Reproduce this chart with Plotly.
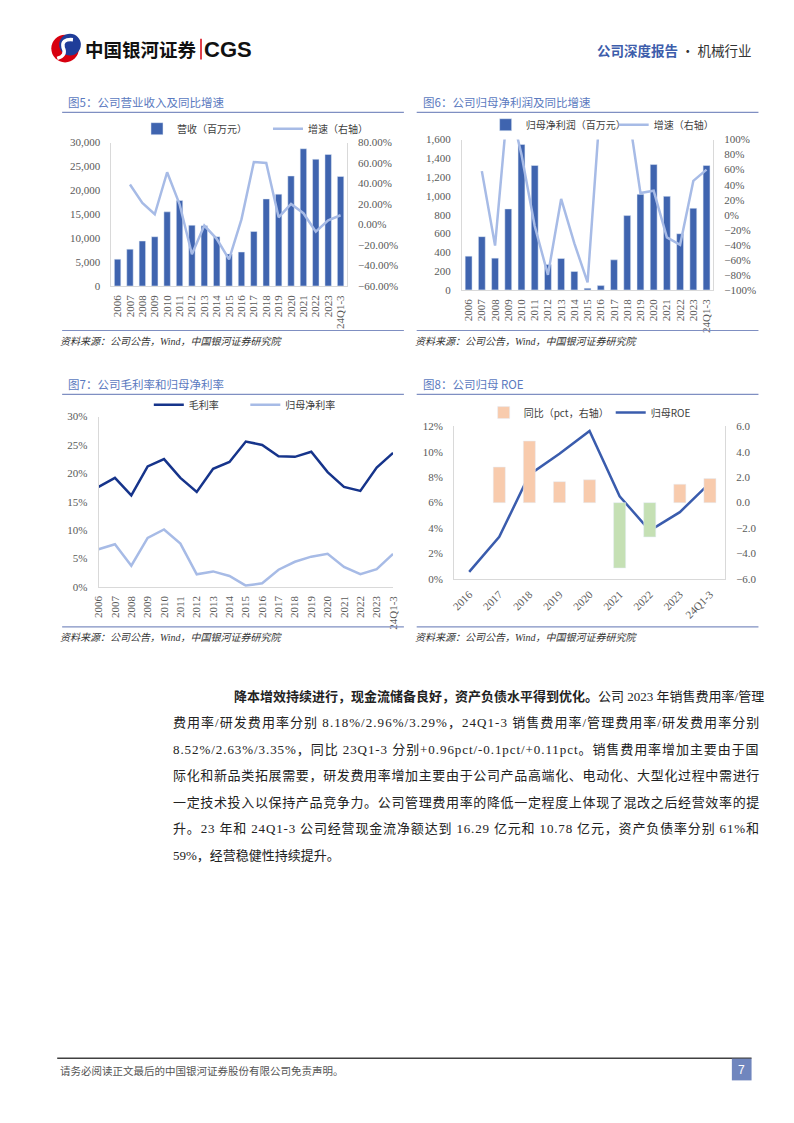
import plotly.graph_objects as go

W, H = 794, 1123
def px(x): return x / W
def py(y): return 1 - y / H

# ---------------- data ----------------
years19 = ["2006","2007","2008","2009","2010","2011","2012","2013","2014","2015",
           "2016","2017","2018","2019","2020","2021","2022","2023","24Q1-3"]
revenue = [5600,7700,9400,10300,15500,17900,12700,12600,10300,6700,
           7100,11400,18200,19200,23000,28700,26500,27500,22900]
revenue_yoy = [None,39,21,10,51,20,-29,-1,-14,-34,5,61,60,7,20,11,-7,4,9]

net_profit = [359,567,338,862,1548,1324,271,334,197,18,
              46,320,791,1017,1334,996,598,869,1324]
profit_yoy = [None,58,-41,155,80,-15,-80,21,-38,-90,155,596,147,29,32,-30,-40,45,60]

gross_margin = [17.6,19.2,16.1,21.2,22.5,19.2,16.7,20.8,22.0,25.6,
                25.0,23.0,22.9,23.8,20.2,17.6,16.9,21.0,23.6]
net_margin = [6.6,7.5,3.7,8.6,10.1,7.6,2.2,2.7,1.9,0.2,
              0.6,3.0,4.4,5.3,5.8,3.5,2.2,3.1,5.8]

years9 = ["2016","2017","2018","2019","2020","2021","2022","2023","24Q1-3"]
roe = [0.55,3.3,8.2,9.85,11.65,6.5,3.8,5.25,7.55]
roe_chg = [None,2.8,4.85,1.65,1.8,-5.15,-2.7,1.45,1.9]

# ---------------- styles ----------------
BAR = "#3F64AF"
LIGHT = "#A7BBE6"
NAVY = "#16348B"
ROE = "#3A5CAD"
PEACH = "#F8CBAD"
GREEN = "#C5E0B4"
AXC = "#D9D9D9"
TITLEC = "#5B7AC0"
RULEC = "#7F8FC2"
TICKF = dict(family="Liberation Serif, Noto Sans CJK SC", size=11, color="#595959")
LEGF = dict(family="Noto Sans CJK SC", size=10, color="#404040")

fig = go.Figure()

# Chart 5
fig.add_trace(go.Bar(x=years19, y=revenue, name="营收（百万元）", marker_color=BAR,
                     width=0.52, xaxis="x", yaxis="y", legend="legend", showlegend=True))
fig.add_trace(go.Scatter(x=years19, y=revenue_yoy, name="增速（右轴）", mode="lines",
                         line=dict(color=LIGHT, width=2.5), xaxis="x", yaxis="y2",
                         legend="legend2"))
# Chart 6
fig.add_trace(go.Bar(x=years19, y=net_profit, name="归母净利润（百万元）", marker_color=BAR,
                     width=0.52, xaxis="x2", yaxis="y3", legend="legend3"))
fig.add_trace(go.Scatter(x=years19, y=profit_yoy, name="增速（右轴）", mode="lines",
                         line=dict(color=LIGHT, width=2.5), xaxis="x2", yaxis="y4",
                         legend="legend4"))
# Chart 7
fig.add_trace(go.Scatter(x=years19, y=gross_margin, name="毛利率", mode="lines",
                         line=dict(color=NAVY, width=2.5), xaxis="x3", yaxis="y5",
                         legend="legend5"))
fig.add_trace(go.Scatter(x=years19, y=net_margin, name="归母净利率", mode="lines",
                         line=dict(color=LIGHT, width=2.5), xaxis="x3", yaxis="y5",
                         legend="legend6"))
# Chart 8
bar_colors = [PEACH if (v is None or v >= 0) else GREEN for v in roe_chg]
fig.add_trace(go.Bar(x=years9, y=roe_chg, name="同比（pct，右轴）", marker_color=bar_colors,
                     width=0.4, xaxis="x4", yaxis="y7", legend="legend7"))
fig.add_trace(go.Scatter(x=years9, y=roe, name="归母ROE", mode="lines",
                         line=dict(color=ROE, width=2.5), xaxis="x4", yaxis="y6",
                         legend="legend8"))

def xax(dom, anchor, angle):
    return dict(domain=dom, anchor=anchor, type="category", tickangle=angle, dtick=1,
                showline=True, linecolor=AXC, linewidth=1, showgrid=False,
                ticks="", tickfont=TICKF, fixedrange=True, ticklabelstandoff=4)

def yax(dom, anchor, rng, dtick, fmt="", suffix="", side="left", overlay=None, line=True):
    d = dict(anchor=anchor, range=rng, dtick=dtick, tick0=rng[0], tickformat=fmt,
             ticksuffix=suffix, side=side, showline=line, linecolor=AXC, linewidth=1,
             showgrid=False, zeroline=False, ticks="", tickfont=TICKF,
             ticklabelstandoff=8, fixedrange=True)
    if overlay:
        d["overlaying"] = overlay
    else:
        d["domain"] = dom
    return d

layout = dict(
    width=W, height=H, autosize=False,
    margin=dict(l=0, r=0, t=0, b=0),
    paper_bgcolor="white", plot_bgcolor="white",
    barmode="overlay", showlegend=True,
    xaxis=xax([px(107), px(346)], "y", -90),
    yaxis=yax([py(283), py(138)], "x", [0, 30000], 5000, fmt=","),
    yaxis2=yax(None, "x", [-60, 80], 20, fmt=".2f", suffix="%", side="right", overlay="y"),
    xaxis2=xax([px(463), px(718)], "y3", -90),
    yaxis3=yax([py(287), py(135)], "x2", [0, 1600], 200, fmt=","),
    yaxis4=yax(None, "x2", [-100, 100], 20, suffix="%", side="right", overlay="y3"),
    xaxis3=xax([px(94), px(393)], "y5", -90),
    yaxis5=yax([py(587), py(415)], "x3", [0, 30], 5, suffix="%"),
    xaxis4=xax([px(455), px(730)], "y6", -45),
    yaxis6=yax([py(579), py(425)], "x4", [0, 12], 2, suffix="%"),
    yaxis7=yax(None, "x4", [-6, 6], 2, fmt=".1f", side="right", overlay="y6"),
)
fig.update_layout(**layout)

def leg(x, y):
    return dict(x=px(x), y=py(y), xanchor="left", yanchor="middle", orientation="h",
                bgcolor="rgba(0,0,0,0)", font=LEGF, itemwidth=30, itemclick=False,
                itemdoubleclick=False, visible=True)

fig.update_layout(
    legend=leg(133, 124), legend2=leg(266, 124),
    legend3=leg(487, 120), legend4=leg(617, 120),
    legend5=leg(145, 403), legend6=leg(243, 403),
    legend7=leg(485, 411), legend8=leg(614, 411),
)

shapes = []
ann = []

def hline(x0, x1, y, color, w):
    shapes.append(dict(type="line", xref="paper", yref="paper", x0=px(x0), x1=px(x1),
                       y0=py(y), y1=py(y), line=dict(color=color, width=w)))

def text(x, y, s, size, color, xanchor="left", family="Noto Sans CJK SC", italic=False):
    if italic:
        s = "<i>" + s + "</i>"
    ann.append(dict(x=px(x), y=py(y), xref="paper", yref="paper", text=s, showarrow=False,
                    xanchor=xanchor, yanchor="middle", borderpad=0, borderwidth=0,
                    font=dict(size=size, color=color, family=family)))

# chart titles and rules
titles = [(63, 97, "图5：公司营业收入及同比增速"), (423, 97, "图6：公司归母净利润及同比增速"),
          (63, 382, "图7：公司毛利率和归母净利率"), (423, 382, "图8：公司归母 ROE")]
for x, y, s in titles:
    text(x, y, s, 11.5, TITLEC, family="Noto Sans CJK SC")
hline(57, 404, 107.5, RULEC, 1.2)
hline(417, 764, 107.5, RULEC, 1.2)
hline(57, 404, 392.5, RULEC, 1.2)
hline(417, 764, 392.5, RULEC, 1.2)
hline(57, 404, 328, RULEC, 1.2)
hline(417, 764, 328, RULEC, 1.2)
hline(57, 404, 627.5, RULEC, 1.2)
hline(417, 764, 627.5, RULEC, 1.2)

src = "资料来源：公司公告，Wind，中国银河证券研究院"
for x, y in [(55, 339), (415, 339), (55, 638), (415, 638)]:
    text(x, y, src, 10, "#333333", family="Liberation Serif, Noto Sans CJK SC", italic=True)

# header logo
shapes.append(dict(type="circle", xref="paper", yref="paper", x0=px(46), x1=px(74),
                   y0=py(57), y1=py(29), fillcolor="#D7000F", line=dict(width=0)))
shapes.append(dict(type="circle", xref="paper", yref="paper", x0=px(54), x1=px(76),
                   y0=py(50), y1=py(28), fillcolor="#1F3D99", line=dict(width=0)))
def P(x, y): return f"{px(x):.5f},{py(y):.5f}"
shapes.append(dict(type="path", xref="paper", yref="paper",
                   path=f"M{P(68,34)} Q{P(56,33)} {P(58,42)} Q{P(62,50)} {P(52,53)}",
                   line=dict(color="white", width=3.5)))
text(80, 43, "<b>中国银河证券</b>", 18.5, "#111111")
shapes.append(dict(type="line", xref="paper", yref="paper", x0=px(198), x1=px(198),
                   y0=py(33), y1=py(54), line=dict(color="#D7000F", width=1.5)))
text(201, 44, "<b>CGS</b>", 22, "#111111", family="Liberation Sans, Arial")
text(757, 44, "<span style='color:#3D5DAB'><b>公司深度报告</b></span> · 机械行业", 13.5,
     "#333333", xanchor="right")

# body text (justified via letter spacing)
BODY_SIZE = 13
NARROW = {"0": .5, "1": .5, "2": .5, "3": .5, "4": .5, "5": .5, "6": .5, "7": .5, "8": .5,
          "9": .5, "%": .833, "/": .278, ".": .25, ",": .25, " ": .25, "-": .333, "+": .564,
          "p": .5, "c": .444, "t": .278, "Q": .722}
def est_width(s):
    return sum(NARROW.get(ch, 1.0) * BODY_SIZE for ch in s)

body_font = "Liberation Serif, Noto Sans CJK SC"
lines = [
    (231, "降本增效持续进行，现金流储备良好，资产负债水平得到优化。", "公司 2023 年销售费用率/管理", True),
    (170, "", "费用率/研发费用率分别 8.18%/2.96%/3.29%，24Q1-3 销售费用率/管理费用率/研发费用率分别", True),
    (170, "", "8.52%/2.63%/3.35%，同比 23Q1-3 分别+0.96pct/-0.1pct/+0.11pct。销售费用率增加主要由于国", True),
    (170, "", "际化和新品类拓展需要，研发费用率增加主要由于公司产品高端化、电动化、大型化过程中需进行", True),
    (170, "", "一定技术投入以保持产品竞争力。公司管理费用率的降低一定程度上体现了混改之后经营效率的提", True),
    (170, "", "升。23 年和 24Q1-3 公司经营现金流净额达到 16.29 亿元和 10.78 亿元，资产负债率分别 61%和", True),
    (170, "", "59%，经营稳健性持续提升。", False),
]
RIGHT = 757
for i, (x, bold, rest, justify) in enumerate(lines):
    full = bold + rest
    ls = 0.0
    if justify:
        ls = max(0.0, (RIGHT - x - est_width(full)) / len(full))
    inner = (f"<b>{bold}</b>" if bold else "") + rest
    s = f"<span style='letter-spacing:{ls:.2f}px'>{inner}</span>"
    text(x, 698 + i * 26.7, s, BODY_SIZE, "#222222", family=body_font)

# footer
hline(52, 757, 1063.5, "#404040", 1.5)
text(55, 1076, "请务必阅读正文最后的中国银河证券股份有限公司免责声明。", 10.5, "#555555")
shapes.append(dict(type="rect", xref="paper", yref="paper", x0=px(737), x1=px(757),
                   y0=py(1086), y1=py(1064), fillcolor="#7086BE", line=dict(width=0)))
text(747, 1075, "7", 12, "white", xanchor="center", family="Liberation Sans")

fig.update_layout(shapes=shapes, annotations=ann)
fig.write_html("out.html")
